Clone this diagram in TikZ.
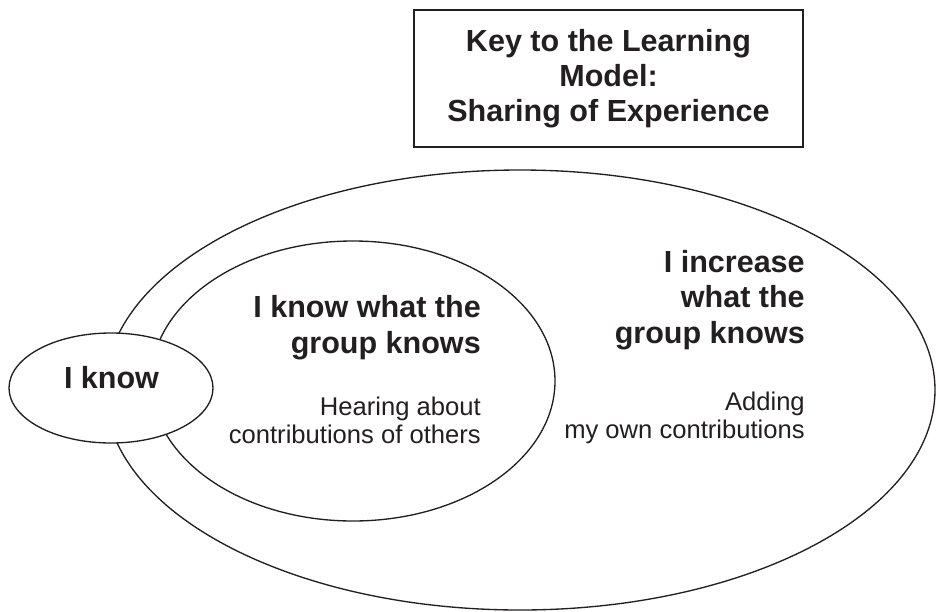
\documentclass[tikz,border=0pt]{standalone}
\usepackage{fontspec}
\setmainfont{Liberation Sans}
\usetikzlibrary{shapes.geometric}
\definecolor{ink}{HTML}{231F20}
\begin{document}
\begin{tikzpicture}[x=0.75pt,y=-0.75pt,
  outline/.style={draw=ink, line width=1pt},
  zone/.style={outline, ellipse, inner sep=0pt},
  heading/.style={text=ink, inner sep=0pt,
    font=\fontsize{22.9pt}{26.3pt}\selectfont\bfseries},
  caption/.style={text=ink, inner sep=0pt,
    font=\fontsize{19.2pt}{21pt}\selectfont},
]
\useasboundingbox (0,0) rectangle (936,611);

% nested zones of knowledge
\node[zone, minimum width=622.5pt, minimum height=330pt] (increase) at (520,390) {};
\node[zone, minimum width=303pt, minimum height=210pt] (groupknows) at (353,381) {};
\node[zone, fill=white, minimum width=153pt, minimum height=82.5pt] (iknow) at (111,388) {};

% labels (multi-line blocks anchored at the baseline of their last line)
\node[heading, anchor=base] (iknowlbl) at (111.5,388) {I know};
\node[heading, align=right, anchor=base east] (gkhead) at (481,353)
  {I know what the\\group knows};
\node[caption, align=right, anchor=base east] (gktext) at (481,443)
  {Hearing about\\contributions of others};
\node[heading, align=right, anchor=base east] (inchead) at (805,343)
  {I increase\\what the\\group knows};
\node[caption, align=right, anchor=base east] (inctext) at (805,438)
  {Adding\\my own contributions};

% key box
\node[outline, heading, align=center, inner sep=0pt,
  minimum width=291.75pt, minimum height=102.75pt] (key) at (608.5,78.5)
  {Key to the Learning\\Model:\\Sharing of Experience};
\end{tikzpicture}
\end{document}
